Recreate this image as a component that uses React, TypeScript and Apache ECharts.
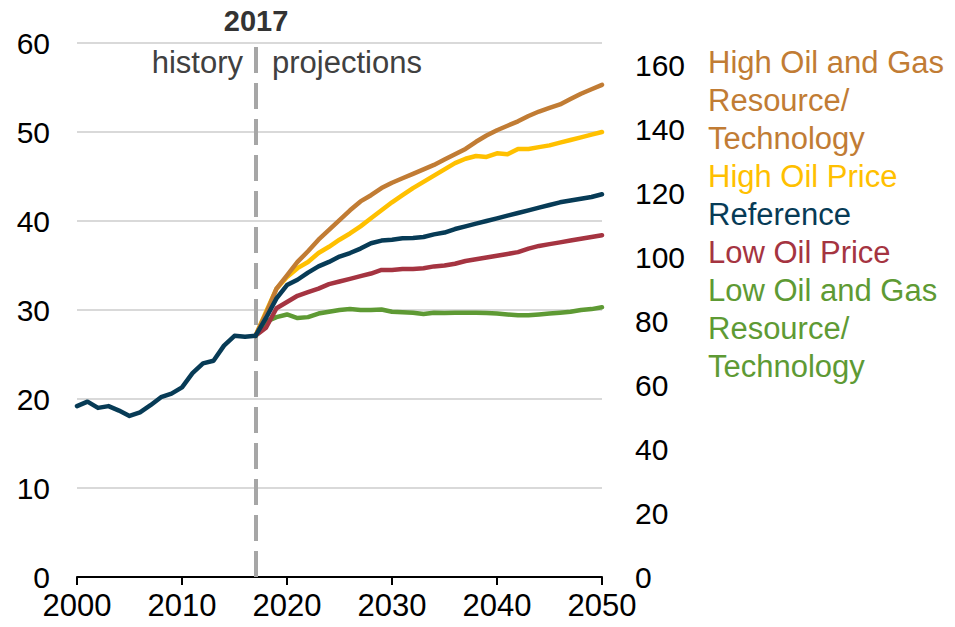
import React, { useEffect, useRef } from "react";
import * as echarts from "echarts";

const FONT = "Arial, 'Liberation Sans', Helvetica, sans-serif";

const histYears = [2000, 2001, 2002, 2003, 2004, 2005, 2006, 2007, 2008, 2009, 2010, 2011, 2012, 2013, 2014, 2015, 2016, 2017];
const history = [19.2, 19.7, 19.0, 19.2, 18.7, 18.1, 18.5, 19.3, 20.2, 20.6, 21.3, 22.9, 24.0, 24.3, 26.0, 27.1, 27.0, 27.1];

const projYears = [2017, 2018, 2019, 2020, 2021, 2022, 2023, 2024, 2025, 2026, 2027, 2028, 2029, 2030, 2031, 2032, 2033, 2034, 2035, 2036, 2037, 2038, 2039, 2040, 2041, 2042, 2043, 2044, 2045, 2046, 2047, 2048, 2049, 2050];
const highOilGas = [27.1, 29.6, 32.4, 33.9, 35.4, 36.6, 37.9, 39.0, 40.1, 41.2, 42.2, 42.9, 43.7, 44.3, 44.8, 45.3, 45.8, 46.3, 46.9, 47.5, 48.1, 48.9, 49.6, 50.2, 50.7, 51.2, 51.8, 52.3, 52.7, 53.1, 53.7, 54.3, 54.8, 55.3];
const highOilPrice = [27.1, 29.8, 32.4, 33.7, 34.7, 35.4, 36.4, 37.1, 37.9, 38.6, 39.4, 40.3, 41.2, 42.1, 42.9, 43.7, 44.4, 45.1, 45.8, 46.5, 47.0, 47.3, 47.2, 47.6, 47.5, 48.1, 48.1, 48.3, 48.5, 48.8, 49.1, 49.4, 49.7, 50.0];
const reference = [27.1, 29.1, 31.3, 32.8, 33.4, 34.2, 34.9, 35.4, 36.0, 36.4, 36.9, 37.5, 37.8, 37.9, 38.05, 38.1, 38.2, 38.5, 38.7, 39.1, 39.4, 39.7, 40.0, 40.3, 40.6, 40.9, 41.2, 41.5, 41.8, 42.1, 42.3, 42.5, 42.7, 43.0];
const lowOilPrice = [27.1, 28.0, 30.2, 30.9, 31.6, 32.0, 32.4, 32.9, 33.2, 33.5, 33.8, 34.1, 34.5, 34.5, 34.6, 34.6, 34.7, 34.9, 35.0, 35.2, 35.5, 35.7, 35.9, 36.1, 36.3, 36.5, 36.9, 37.2, 37.4, 37.6, 37.8, 38.0, 38.2, 38.4];
const lowOilGas = [27.1, 28.7, 29.2, 29.5, 29.1, 29.2, 29.6, 29.8, 30.0, 30.1, 30.0, 30.0, 30.05, 29.8, 29.75, 29.7, 29.55, 29.7, 29.65, 29.7, 29.7, 29.7, 29.65, 29.6, 29.5, 29.4, 29.4, 29.5, 29.6, 29.7, 29.8, 30.0, 30.1, 30.3];

const leftTicks = { min: 0, max: 60, interval: 10 };
const rightTicks = { min: 0, max: 167, interval: 20 };
const xTicks = { min: 2000, max: 2050, interval: 10 };
const splitYear = 2017;

const scenarios = [
  { name: "High Oil and Gas Resource/Technology", label: "High Oil and Gas\nResource/\nTechnology", color: "#C17C34", data: highOilGas },
  { name: "High Oil Price", label: "High Oil Price", color: "#FFC000", data: highOilPrice },
  { name: "Reference", label: "Reference", color: "#073B56", data: reference },
  { name: "Low Oil Price", label: "Low Oil Price", color: "#A53441", data: lowOilPrice },
  { name: "Low Oil and Gas Resource/Technology", label: "Low Oil and Gas\nResource/\nTechnology", color: "#5E9A34", data: lowOilGas },
];
const drawOrder = ["Low Oil and Gas Resource/Technology", "Low Oil Price", "High Oil Price", "High Oil and Gas Resource/Technology", "Reference"];

export default function App() {
  const ref = useRef<HTMLDivElement>(null);
  useEffect(() => {
    if (!ref.current) return;
    const chart = echarts.init(ref.current, null, { renderer: "svg" });

    const series: any[] = drawOrder.map((n) => {
      const s = scenarios.find((x) => x.name === n)!;
      return {
        name: s.name,
        type: "line",
        yAxisIndex: 0,
        data: projYears.map((y, i) => [y, s.data[i]]),
        symbol: "none",
        lineStyle: { color: s.color, width: 4.5, cap: "round", join: "round" },
        itemStyle: { color: s.color },
        z: 3,
      };
    });
    series.push({
      name: "History",
      type: "line",
      yAxisIndex: 0,
      data: histYears.map((y, i) => [y, history[i]]),
      symbol: "none",
      lineStyle: { color: "#073B56", width: 4.5, cap: "round", join: "round" },
      z: 4,
      markLine: {
        silent: true,
        symbol: "none",
        label: { show: false },
        lineStyle: { color: "#A6A6A6", width: 4, type: [26, 10] },
        data: [{ xAxis: splitYear }],
        z: 2,
      },
    });
    series.push({ type: "line", yAxisIndex: 1, data: [], silent: true });

    const legendGraphics: any[] = [];
    let lineIdx = 0;
    const lh = 38;
    scenarios.forEach((s) => {
      legendGraphics.push({
        type: "text",
        x: 708,
        y: 43 + lineIdx * lh,
        silent: true,
        style: {
          text: s.label,
          fill: s.color,
          fontSize: 31,
          fontFamily: FONT,
          lineHeight: lh,
          verticalAlign: "top",
          align: "left",
        },
      });
      lineIdx += s.label.split("\n").length;
    });

    chart.setOption({
      animation: false,
      backgroundColor: "#ffffff",
      textStyle: { fontFamily: FONT },
      grid: { left: 77, right: 353, top: 43, bottom: 50 },
      xAxis: {
        type: "value",
        ...xTicks,
        axisLine: { show: true, lineStyle: { color: "#000", width: 2 } },
        axisTick: { show: true, length: 8, lineStyle: { color: "#000", width: 2 } },
        splitLine: { show: false },
        axisLabel: { fontSize: 31, color: "#000", margin: 13, fontFamily: FONT, formatter: (v: number) => String(v) },
      },
      yAxis: [
        {
          type: "value",
          ...leftTicks,
          axisLine: { show: false },
          axisTick: { show: false },
          splitLine: { show: true, lineStyle: { color: "#D9D9D9", width: 2 } },
          axisLabel: { fontSize: 30, color: "#000", margin: 27, fontFamily: FONT },
        },
        {
          type: "value",
          position: "right",
          ...rightTicks,
          axisLine: { show: false },
          axisTick: { show: false },
          splitLine: { show: false },
          axisLabel: { fontSize: 30, color: "#000", margin: 33, fontFamily: FONT, showMaxLabel: false },
        },
      ],
      series,
      graphic: [
        {
          type: "text",
          x: 256,
          y: 21,
          silent: true,
          style: { text: String(splitYear), fill: "#333333", fontSize: 29, fontWeight: "bold", fontFamily: FONT, align: "center", verticalAlign: "middle" },
        },
        {
          type: "text",
          x: 243,
          y: 62,
          silent: true,
          style: { text: "history", fill: "#404040", fontSize: 31, fontFamily: FONT, align: "right", verticalAlign: "middle" },
        },
        {
          type: "text",
          x: 272,
          y: 62,
          silent: true,
          style: { text: "projections", fill: "#404040", fontSize: 31, fontFamily: FONT, align: "left", verticalAlign: "middle" },
        },
        ...legendGraphics,
      ],
    });
    return () => chart.dispose();
  }, []);
  return <div ref={ref} style={{ width: 955, height: 627, position: "absolute", left: 0, top: 0 }} />;
}
